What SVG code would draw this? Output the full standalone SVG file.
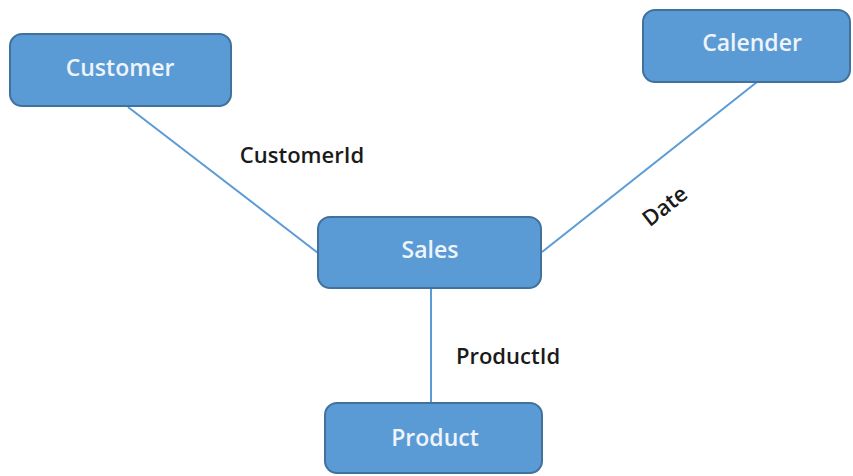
<svg xmlns="http://www.w3.org/2000/svg" width="853" height="476" viewBox="0 0 853 476">
<style>
.node{fill:#5b9bd5;stroke:#41719c;stroke-width:2}
.nt{font-family:"Open Sans","Liberation Sans",sans-serif;font-size:23px;font-weight:600;fill:#eef4fa;text-anchor:middle;dominant-baseline:central}
.lbl{font-family:"Open Sans","Liberation Sans",sans-serif;font-size:22px;font-weight:600;fill:#1a1a1a;text-anchor:middle;dominant-baseline:central}
.conn{stroke:#5b9bd5;stroke-width:2;fill:none}
</style>
<rect width="853" height="476" fill="#ffffff"/>
<g id="connectors">
<line class="conn" x1="128" y1="107" x2="318" y2="253"/>
<line class="conn" x1="757" y1="82" x2="542" y2="252"/>
<line class="conn" x1="431" y1="288" x2="431" y2="403"/>
<text class="lbl" x="302" y="154">CustomerId</text>
<text class="lbl" x="508" y="355">ProductId</text>
<text class="lbl" x="664" y="205" transform="rotate(-38 664 205)">Date</text>
</g>
<g id="customer"><rect class="node" x="10" y="34" width="221" height="72" rx="12"/><text class="nt" x="120" y="67">Customer</text></g>
<g id="calender"><rect class="node" x="643" y="10" width="207" height="72" rx="12"/><text class="nt" x="752" y="42">Calender</text></g>
<g id="sales"><rect class="node" x="318" y="217" width="223" height="71" rx="12"/><text class="nt" x="430" y="249">Sales</text></g>
<g id="product"><rect class="node" x="325" y="403" width="217" height="70" rx="12"/><text class="nt" x="435" y="437">Product</text></g>
</svg>
